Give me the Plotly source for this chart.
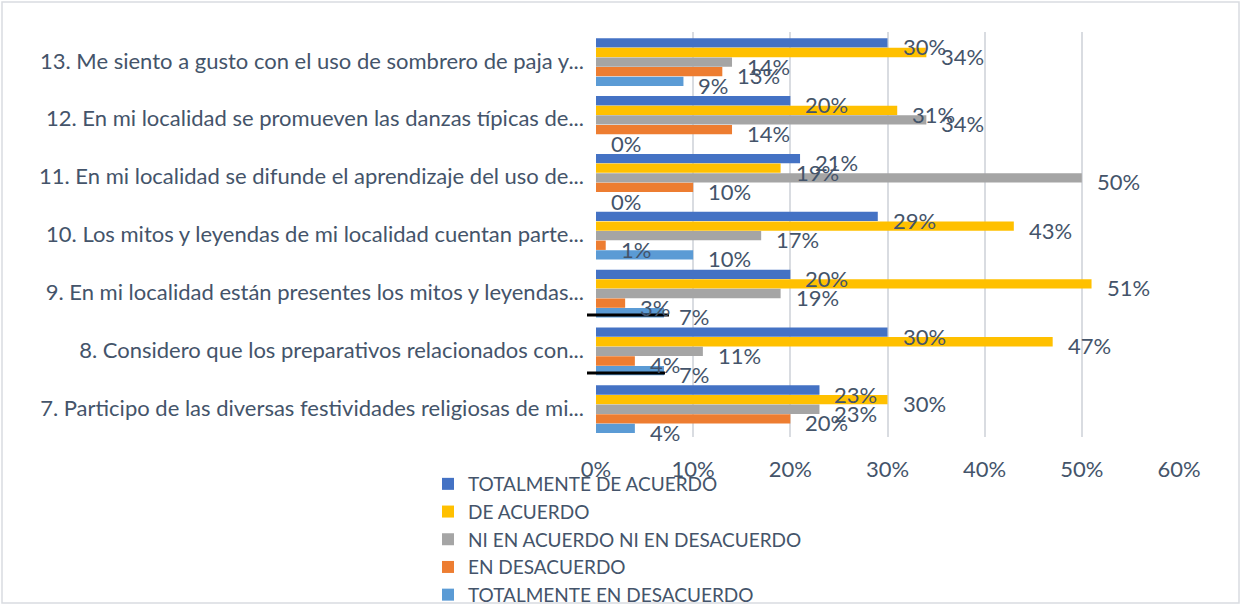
import plotly.graph_objects as go

# ---- data (bottom to top: item 7 ... item 13) ----
items = [
    "7. Participo de las diversas festividades religiosas de mi...",
    "8. Considero que los preparativos relacionados con...",
    "9. En mi localidad están presentes los mitos y leyendas...",
    "10. Los mitos y leyendas de mi localidad cuentan parte...",
    "11. En mi localidad se difunde el aprendizaje del uso de...",
    "12. En mi localidad se promueven las danzas típicas de...",
    "13. Me siento a gusto con el uso de sombrero de paja y...",
]
series_names = [
    "TOTALMENTE DE ACUERDO",
    "DE ACUERDO",
    "NI EN ACUERDO NI EN DESACUERDO",
    "EN DESACUERDO",
    "TOTALMENTE EN DESACUERDO",
]
totalmente_de_acuerdo = [23, 30, 20, 29, 21, 20, 30]
de_acuerdo = [30, 47, 51, 43, 19, 31, 34]
ni_ni = [23, 11, 19, 17, 50, 34, 14]
en_desacuerdo = [20, 4, 3, 1, 10, 14, 13]
totalmente_en_desacuerdo = [4, 7, 7, 10, 0, 0, 9]
x_ticks = [0, 10, 20, 30, 40, 50, 60]

series_values = [totalmente_de_acuerdo, de_acuerdo, ni_ni, en_desacuerdo, totalmente_en_desacuerdo]
colors = ["#4472C4", "#FFC000", "#A5A5A5", "#ED7D31", "#5B9BD5"]

TXT = "#44546A"
FONT = "Lato"
FS = 22

# ---- layout geometry ----
# the page viewport is 1241x606; the figure is made a little taller so that the
# legend (which sits right at the bottom edge) does not force plotly to shrink the plot
W, H = 1241, 640
PLOT_BOTTOM = 437
L, R, T = 596, 62, 32
B = H - PLOT_BOTTOM
pw, ph = W - L - R, PLOT_BOTTOM - T
bar_pitch = 0.166
fig = go.Figure()
annotations = []
for k, (name, vals, col) in enumerate(zip(series_names, series_values, colors)):
    ys = [i + (2 - k) * bar_pitch - 0.02 for i in range(len(items))]
    fig.add_trace(go.Bar(
        x=vals, y=ys, orientation="h", name=name,
        marker=dict(color=col, line=dict(width=0)),
        width=bar_pitch * 0.97,
    ))
    for v, yv in zip(vals, ys):
        annotations.append(dict(
            x=v, y=yv, xref="x", yref="y", text=f"{v}%", showarrow=False,
            xanchor="left", yanchor="middle", xshift=13, yshift=-4,
            font=dict(family=FONT, size=FS, color=TXT),
        ))

def px_x(p):
    return (p - L) / pw

def px_y(p):
    return (PLOT_BOTTOM - p) / ph

shapes = [
    # chart border
    dict(type="rect", xref="paper", yref="paper",
         x0=px_x(2), x1=px_x(1239), y0=px_y(603), y1=px_y(2),
         line=dict(color="#D9DCE1", width=1.5), fillcolor="rgba(0,0,0,0)", layer="below"),
    # black underline marks
    dict(type="line", xref="paper", yref="paper",
         x0=px_x(587), x1=px_x(669), y0=px_y(315), y1=px_y(315),
         line=dict(color="black", width=3)),
    dict(type="line", xref="paper", yref="paper",
         x0=px_x(587), x1=px_x(665), y0=px_y(373), y1=px_y(373),
         line=dict(color="black", width=3)),
]

fig.update_layout(
    width=W, height=H,
    margin=dict(l=L, r=R, t=T, b=B, pad=0),
    paper_bgcolor="white", plot_bgcolor="white",
    barmode="overlay",
    showlegend=True,
    legend=dict(
        x=px_x(428), y=px_y(465), xanchor="left", yanchor="top",
        font=dict(family=FONT, size=19, color=TXT),
        bgcolor="rgba(0,0,0,0)", tracegroupgap=0,
        traceorder="normal",
    ),
    xaxis=dict(
        range=[0, 60], tickvals=x_ticks, ticktext=[f"{t}%" for t in x_ticks],
        showgrid=True, gridcolor="#D9DCE1", gridwidth=1.5,
        zeroline=False, showline=False, ticks="",
        ticklabelstandoff=17,
        tickfont=dict(family=FONT, size=FS, color=TXT),
        fixedrange=True,
    ),
    yaxis=dict(
        range=[-0.5, len(items) - 0.5],
        tickvals=list(range(len(items))), ticktext=items,
        showgrid=False, zeroline=False, showline=False, ticks="",
        ticklabelstandoff=11,
        tickfont=dict(family=FONT, size=FS, color=TXT),
        fixedrange=True,
    ),
    annotations=annotations,
    shapes=shapes,
)

fig.write_html(
    "out.html",
    config={"displayModeBar": False},
    post_script="document.body.style.margin='0';document.body.style.overflow='hidden';",
)
